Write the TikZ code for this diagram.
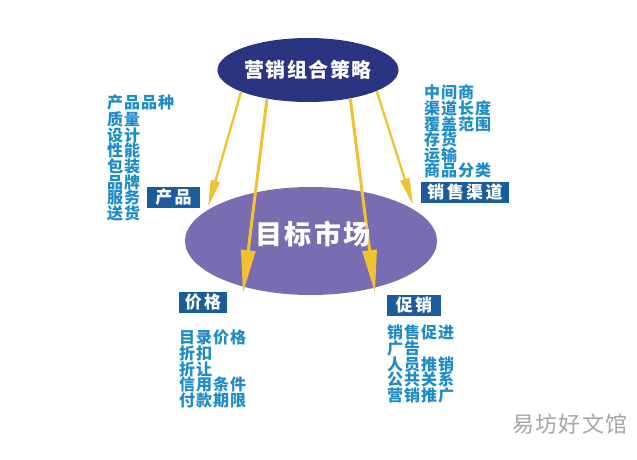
\documentclass[tikz,border=0pt]{standalone}
\usepackage{fontspec}
\usepackage{tikz}
\usetikzlibrary{positioning,shapes.geometric,arrows.meta}
\newfontfamily\cjklist{Noto Sans CJK SC}[LetterSpace=6]
\newfontfamily\cjkbox{Noto Sans CJK SC}[LetterSpace=14]
\newfontfamily\cjkbig{Noto Sans CJK SC}[LetterSpace=8]
\definecolor{navy}{HTML}{2B3481}
\definecolor{lavender}{HTML}{7A6CB0}
\definecolor{boxblue}{HTML}{1A5C9C}
\definecolor{listblue}{HTML}{1E8CC6}
\definecolor{arrowyellow}{HTML}{F0C231}
\tikzset{
  tagbox/.style={fill=boxblue,text=white,inner xsep=6pt,inner ysep=2pt,minimum height=21pt,
    font=\cjkbox\bfseries\fontsize{17}{17}\selectfont},
  itemlist/.style={text=listblue,align=left,inner sep=0pt,anchor=north west,
    font=\cjklist\bfseries\fontsize{16}{15.6}\selectfont},
  longarrow/.style={draw=arrowyellow,line width=3pt,
    -{Triangle[length=43pt,width=14pt,fill=arrowyellow]}},
  shortarrow/.style={draw=arrowyellow,line width=2.3pt,
    -{Triangle[length=27pt,width=9pt,fill=arrowyellow]}}
}
\begin{document}
\begin{tikzpicture}[x=1pt,y=-1pt]
	\useasboundingbox[fill=white] (0,0) rectangle (637,460);
	% ellipses
	\node[ellipse,fill=lavender,minimum width=252pt,minimum height=108pt,inner sep=0pt] (market) at (311,241) {};
	\node[ellipse,fill=navy,text=white,minimum width=174pt,minimum height=64pt,inner sep=0pt,
	  font=\cjkbig\bfseries\fontsize{20}{20}\selectfont] (mix) at (308,70) {营销组合策略};
	% arrow tips
	\coordinate (tipproduct) at (208,207);
	\coordinate (tipprice) at (243,293);
	\coordinate (tippromo) at (375,293);
	\coordinate (tipchannel) at (413,205);
	\draw[shortarrow] (mix.198) -- (tipproduct);
	\draw[longarrow] (mix.215) -- (tipprice);
	\draw[longarrow] (mix.326) -- (tippromo);
	\draw[shortarrow] (mix.343) -- (tipchannel);
	\node[text=white,font=\cjkbig\bfseries\fontsize{27}{27}\selectfont] (markettext) at (313,234) {目标市场};
	% tags
	\node[tagbox,minimum width=53pt] (product) at (173.5,197.5) {产品};
	\node[tagbox] (channel) at (465,192) {销售渠道};
	\node[tagbox] (price) at (203,302.5) {价格};
	\node[tagbox,minimum width=54pt] (promo) at (414,305) {促销};
	% item lists
	\node[itemlist] (productitems) at (107,95) {产品品种\\质量\\设计\\性能\\包装\\品牌\\服务\\送货};
	\node[itemlist] (channelitems) at (424,85) {中间商\\渠道长度\\覆盖范围\\存货\\运输\\商品分类};
	\node[itemlist] (priceitems) at (179,330) {目录价格\\折扣\\折让\\信用条件\\付款期限};
	\node[itemlist] (promoitems) at (387,325) {销售促进\\广告\\人员推销\\公共关系\\营销推广};
	% watermark
	\node[text=gray!70,font=\cjklist\fontsize{22}{22}\selectfont] (mark) at (570,424) {易坊好文馆};
\end{tikzpicture}
\end{document}
